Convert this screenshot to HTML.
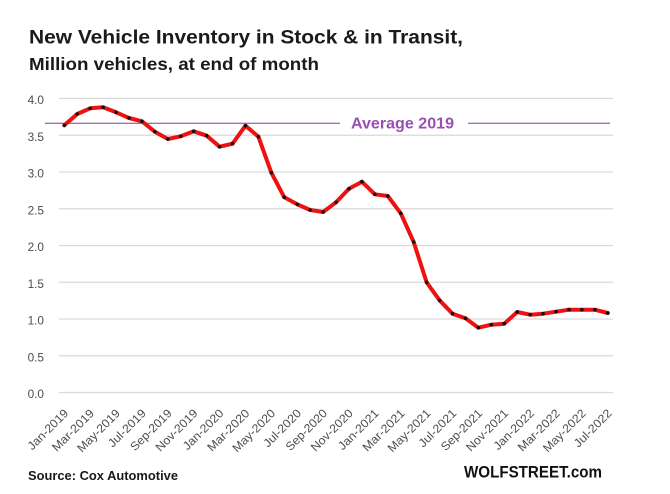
<!DOCTYPE html>
<html><head><meta charset="utf-8"><style>
html,body{margin:0;padding:0;background:#fff;}
svg{display:block;}
</style></head><body>
<svg width="670" height="494" viewBox="0 0 670 494" xmlns="http://www.w3.org/2000/svg" font-family="Liberation Sans, sans-serif">
<rect width="670" height="494" fill="#ffffff"/>
<text x="29" y="43.3" font-size="19.5" font-weight="bold" fill="#1a1a1a" textLength="434" lengthAdjust="spacingAndGlyphs">New Vehicle Inventory in Stock &amp; in Transit,</text>
<text x="29" y="70" font-size="17.2" font-weight="bold" fill="#1a1a1a" textLength="290" lengthAdjust="spacingAndGlyphs">Million vehicles, at end of month</text>
<g stroke="#d9d9d9" stroke-width="1.3">
<line x1="59" x2="613" y1="98.5" y2="98.5"/>
<line x1="59" x2="613" y1="135.25" y2="135.25"/>
<line x1="59" x2="613" y1="172" y2="172"/>
<line x1="59" x2="613" y1="208.75" y2="208.75"/>
<line x1="59" x2="613" y1="245.5" y2="245.5"/>
<line x1="59" x2="613" y1="282.25" y2="282.25"/>
<line x1="59" x2="613" y1="319" y2="319"/>
<line x1="59" x2="613" y1="355.75" y2="355.75"/>
<line x1="59" x2="613" y1="392.5" y2="392.5"/>
</g>
<g font-size="11.8" fill="#4d4d4d" text-anchor="end">
<text x="44" y="104">4.0</text>
<text x="44" y="140.75">3.5</text>
<text x="44" y="177.5">3.0</text>
<text x="44" y="214.25">2.5</text>
<text x="44" y="251">2.0</text>
<text x="44" y="287.75">1.5</text>
<text x="44" y="324.5">1.0</text>
<text x="44" y="361.25">0.5</text>
<text x="44" y="398">0.0</text>
</g>
<g stroke="#a070b8" stroke-width="1.4">
<line x1="45" x2="340" y1="123.3" y2="123.3"/>
<line x1="468" x2="610" y1="123.3" y2="123.3"/>
</g>
<text x="351" y="128.7" font-size="15.5" font-weight="bold" fill="#9950b3" textLength="103" lengthAdjust="spacingAndGlyphs">Average 2019</text>
<polyline fill="none" stroke="#ee1111" stroke-width="4" stroke-linejoin="round" stroke-linecap="round" points="64.3,125.3 77.24,114 90.18,108.3 103.12,107.3 116.06,112.3 129,118 141.94,121.3 154.88,131.7 167.82,139 180.76,136.3 193.7,131.3 206.64,135.7 219.58,146.7 232.52,143.7 245.46,125.7 258.4,136.7 271.34,172.7 284.28,197.3 297.22,204.3 310.16,210 323.1,212 336.04,202.3 348.98,188.7 361.92,181.7 374.86,194.3 387.8,196 400.74,213.3 413.68,242 426.62,282.3 439.56,300.3 452.5,313.7 465.44,318.3 478.38,327.7 491.32,324.7 504.26,323.7 517.2,312 530.14,314.7 543.08,313.7 556.02,311.7 568.96,309.7 581.9,309.7 594.84,309.7 607.78,313"/>
<g fill="#111">
<circle cx="64.3" cy="125.3" r="1.8"/><circle cx="77.24" cy="114" r="1.8"/><circle cx="90.18" cy="108.3" r="1.8"/><circle cx="103.12" cy="107.3" r="1.8"/><circle cx="116.06" cy="112.3" r="1.8"/><circle cx="129" cy="118" r="1.8"/><circle cx="141.94" cy="121.3" r="1.8"/><circle cx="154.88" cy="131.7" r="1.8"/><circle cx="167.82" cy="139" r="1.8"/><circle cx="180.76" cy="136.3" r="1.8"/><circle cx="193.7" cy="131.3" r="1.8"/><circle cx="206.64" cy="135.7" r="1.8"/><circle cx="219.58" cy="146.7" r="1.8"/><circle cx="232.52" cy="143.7" r="1.8"/><circle cx="245.46" cy="125.7" r="1.8"/><circle cx="258.4" cy="136.7" r="1.8"/><circle cx="271.34" cy="172.7" r="1.8"/><circle cx="284.28" cy="197.3" r="1.8"/><circle cx="297.22" cy="204.3" r="1.8"/><circle cx="310.16" cy="210" r="1.8"/><circle cx="323.1" cy="212" r="1.8"/><circle cx="336.04" cy="202.3" r="1.8"/><circle cx="348.98" cy="188.7" r="1.8"/><circle cx="361.92" cy="181.7" r="1.8"/><circle cx="374.86" cy="194.3" r="1.8"/><circle cx="387.8" cy="196" r="1.8"/><circle cx="400.74" cy="213.3" r="1.8"/><circle cx="413.68" cy="242" r="1.8"/><circle cx="426.62" cy="282.3" r="1.8"/><circle cx="439.56" cy="300.3" r="1.8"/><circle cx="452.5" cy="313.7" r="1.8"/><circle cx="465.44" cy="318.3" r="1.8"/><circle cx="478.38" cy="327.7" r="1.8"/><circle cx="491.32" cy="324.7" r="1.8"/><circle cx="504.26" cy="323.7" r="1.8"/><circle cx="517.2" cy="312" r="1.8"/><circle cx="530.14" cy="314.7" r="1.8"/><circle cx="543.08" cy="313.7" r="1.8"/><circle cx="556.02" cy="311.7" r="1.8"/><circle cx="568.96" cy="309.7" r="1.8"/><circle cx="581.9" cy="309.7" r="1.8"/><circle cx="594.84" cy="309.7" r="1.8"/><circle cx="607.78" cy="313" r="1.8"/>
</g>
<g font-size="11.8" fill="#4d4d4d" text-anchor="end">
<text transform="translate(69,414) rotate(-45)" textLength="52" lengthAdjust="spacingAndGlyphs">Jan-2019</text>
<text transform="translate(94.88,414) rotate(-45)" textLength="54" lengthAdjust="spacingAndGlyphs">Mar-2019</text>
<text transform="translate(120.76,414) rotate(-45)" textLength="55" lengthAdjust="spacingAndGlyphs">May-2019</text>
<text transform="translate(146.64,414) rotate(-45)" textLength="48" lengthAdjust="spacingAndGlyphs">Jul-2019</text>
<text transform="translate(172.52,414) rotate(-45)" textLength="53" lengthAdjust="spacingAndGlyphs">Sep-2019</text>
<text transform="translate(198.4,414) rotate(-45)" textLength="54" lengthAdjust="spacingAndGlyphs">Nov-2019</text>
<text transform="translate(224.28,414) rotate(-45)" textLength="52" lengthAdjust="spacingAndGlyphs">Jan-2020</text>
<text transform="translate(250.16,414) rotate(-45)" textLength="54" lengthAdjust="spacingAndGlyphs">Mar-2020</text>
<text transform="translate(276.04,414) rotate(-45)" textLength="55" lengthAdjust="spacingAndGlyphs">May-2020</text>
<text transform="translate(301.92,414) rotate(-45)" textLength="48" lengthAdjust="spacingAndGlyphs">Jul-2020</text>
<text transform="translate(327.8,414) rotate(-45)" textLength="53" lengthAdjust="spacingAndGlyphs">Sep-2020</text>
<text transform="translate(353.68,414) rotate(-45)" textLength="54" lengthAdjust="spacingAndGlyphs">Nov-2020</text>
<text transform="translate(379.56,414) rotate(-45)" textLength="52" lengthAdjust="spacingAndGlyphs">Jan-2021</text>
<text transform="translate(405.44,414) rotate(-45)" textLength="54" lengthAdjust="spacingAndGlyphs">Mar-2021</text>
<text transform="translate(431.32,414) rotate(-45)" textLength="55" lengthAdjust="spacingAndGlyphs">May-2021</text>
<text transform="translate(457.2,414) rotate(-45)" textLength="48" lengthAdjust="spacingAndGlyphs">Jul-2021</text>
<text transform="translate(483.08,414) rotate(-45)" textLength="53" lengthAdjust="spacingAndGlyphs">Sep-2021</text>
<text transform="translate(508.96,414) rotate(-45)" textLength="54" lengthAdjust="spacingAndGlyphs">Nov-2021</text>
<text transform="translate(534.84,414) rotate(-45)" textLength="52" lengthAdjust="spacingAndGlyphs">Jan-2022</text>
<text transform="translate(560.72,414) rotate(-45)" textLength="54" lengthAdjust="spacingAndGlyphs">Mar-2022</text>
<text transform="translate(586.6,414) rotate(-45)" textLength="55" lengthAdjust="spacingAndGlyphs">May-2022</text>
<text transform="translate(612.48,414) rotate(-45)" textLength="48" lengthAdjust="spacingAndGlyphs">Jul-2022</text>
</g>
<text x="28" y="480" font-size="12.5" font-weight="bold" fill="#1a1a1a" textLength="150" lengthAdjust="spacingAndGlyphs">Source: Cox Automotive</text>
<text x="464" y="477.7" font-size="16.5" font-weight="bold" fill="#111" textLength="138" lengthAdjust="spacingAndGlyphs">WOLFSTREET.com</text>
</svg>
</body></html>
